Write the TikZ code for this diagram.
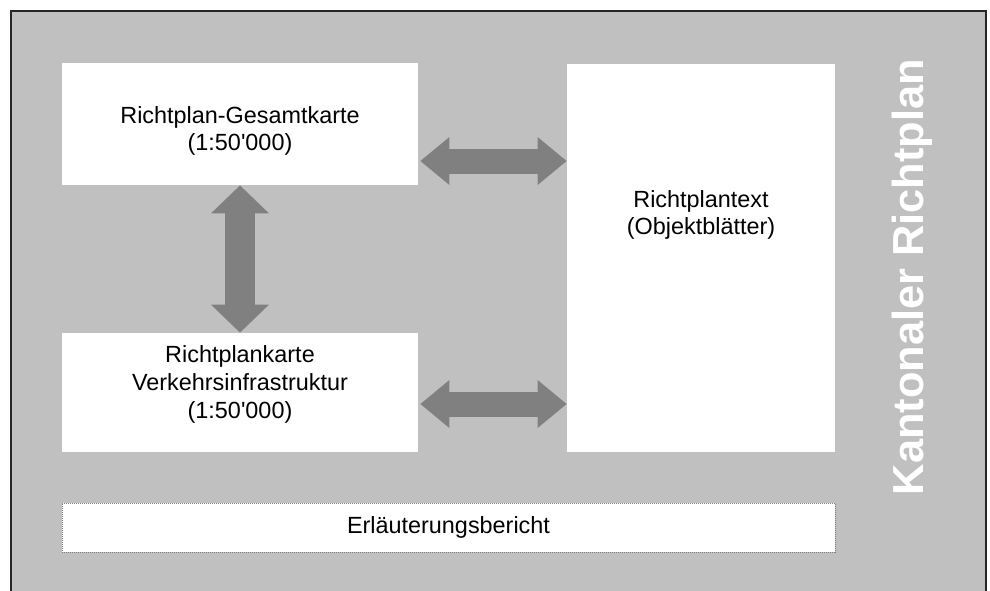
\documentclass[tikz,border=0pt]{standalone}
\usepackage{fontspec}
\setmainfont{Liberation Sans}
\usetikzlibrary{arrows.meta, positioning}

\definecolor{plangray}{HTML}{C0C0C0}
\definecolor{arrowgray}{HTML}{808080}

\newcommand{\massstab}{(1:50\textquotesingle000)}

\tikzset{
    planbox/.style={fill=white, inner sep=0pt},
    plantext/.style={inner sep=0pt, align=center, font=\fontsize{11.7}{13.8}\selectfont},
    harrow/.style={arrowgray, line width=12.5pt, shorten <=1pt,
        {Triangle[width=24pt,length=14.5pt,line width=0pt]}-{Triangle[width=24pt,length=14.5pt,line width=0pt]}},
    varrow/.style={arrowgray, line width=15pt,
        {Triangle[width=29pt,length=14pt,line width=0pt]}-{Triangle[width=29pt,length=14pt,line width=0pt]}}
}

\begin{document}
\begin{tikzpicture}[x=0.5pt, y=-0.5pt]
            \useasboundingbox (0,0) rectangle (990,590);
            \clip (0,0) rectangle (990,590);
            \fill[plangray] (10,10) rectangle (986,610);
            \draw[line width=1pt, black!85] (10.5,610) -- (10.5,10.5) -- (985.5,10.5) -- (985.5,610);

            \node[planbox, minimum width=178pt, minimum height=61pt] (gesamt) at (240,124) {};
            \node[planbox, minimum width=178pt, minimum height=59.5pt] (verkehr) at (240,392.5) {};
            \node[planbox, minimum width=134pt, minimum height=194pt] (text) at (701,258) {};
            \node[planbox, minimum width=386.5pt, minimum height=24.5pt, draw=arrowgray, line width=0.5pt,
                dash pattern=on 0.5pt off 0.5pt] (bericht) at (448.5,527.5) {};

            \node[plantext] (gesamtlabel) at ([yshift=-3.5pt]gesamt.center) {Richtplan-Gesamtkarte\\\massstab};
            \node[plantext] (verkehrlabel) at ([yshift=4pt]verkehr.center) {Richtplankarte\\Verkehrsinfrastruktur\\\massstab};
            \node[plantext] (textlabel) at ([yshift=21.5pt]text.center) {Richtplantext\\(Objektblätter)};
            \node[plantext] (berichtlabel) at (bericht.center) {Erläuterungsbericht};

            \node[rotate=90, text=white, inner sep=0pt, font=\bfseries\fontsize{21.7}{26}\selectfont] (titel) at (912,277) {Kantonaler Richtplan};

            \coordinate (ya) at (0,161);
            \coordinate (yb) at (0,404);
            \draw[harrow] (gesamt.east |- ya) -- (text.west |- ya);
            \draw[harrow] (verkehr.east |- yb) -- (text.west |- yb);
            \draw[varrow] (gesamt.south) -- (verkehr.north);
        \end{tikzpicture}
\end{document}
